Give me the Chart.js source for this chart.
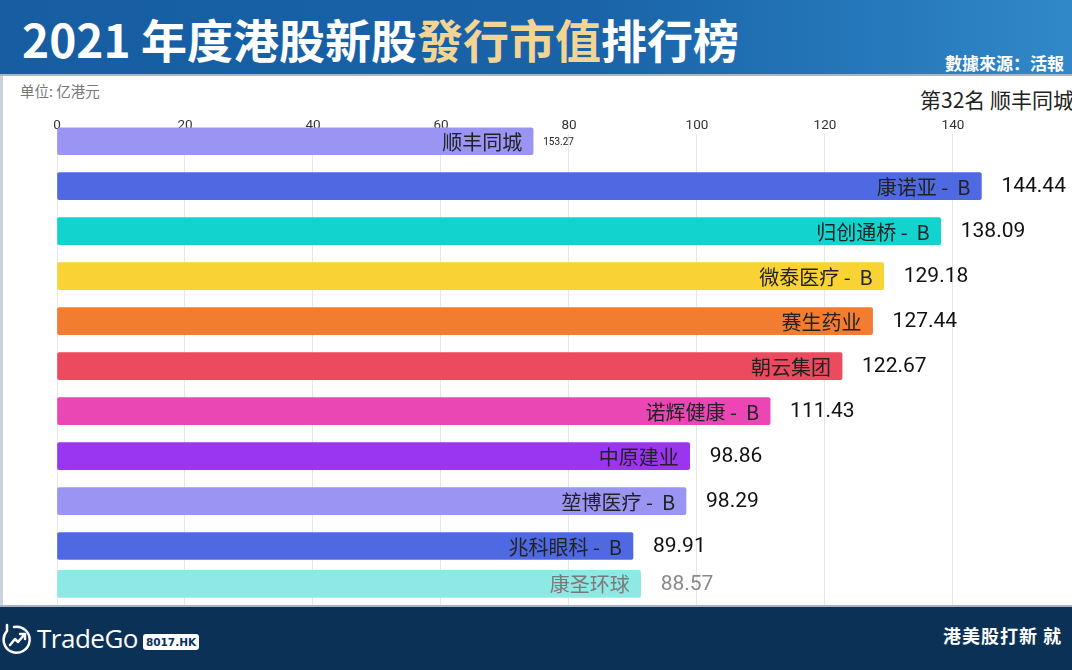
<!DOCTYPE html>
<html>
<head>
<meta charset="utf-8">
<script src="https://cdn.jsdelivr.net/npm/chart.js@4"></script>
<style>
  html, body { margin: 0; padding: 0; }
  body { width: 1072px; height: 670px; position: relative; overflow: hidden; background: #ffffff; font-family: "Noto Sans CJK SC", "Noto Sans", sans-serif; }
  #header { position: absolute; left: 0; top: 0; width: 1072px; height: 76px;
    background: linear-gradient(90deg, #165da2 0%, #1a63a8 55%, #2477ba 80%, #3188c8 100%);
    border-bottom: 2px solid #9fb8d4; box-sizing: border-box; }
  #title { position: absolute; left: 22px; top: 5px; font-size: 46px; font-weight: 700; color: #ffffff; white-space: nowrap; }
  #title .gold { color: #f2d594; }
  #source { position: absolute; left: 945px; top: 50px; font-size: 17px; font-weight: 700; color: #ffffff; white-space: nowrap; }
  #panel { position: absolute; left: 0; top: 76px; width: 1072px; height: 530px; border-left: 3px solid #c9d4e2; box-sizing: border-box; }
  #unit { position: absolute; left: 20px; top: 80px; font-size: 14.5px; color: #777777; }
  #rank { position: absolute; left: 920px; top: 84px; font-size: 21px; color: #222222; white-space: nowrap; }
  #chartBox { position: absolute; left: 0; top: 76px; width: 1072px; height: 530px; }
  #footer { position: absolute; left: 0; top: 605px; width: 1072px; height: 65px; background: #0b3156; border-top: 2px solid #aab4c0; box-sizing: border-box; }
  #logo { position: absolute; left: 2px; top: 13px; height: 36px; display: flex; align-items: center; }
  #logoText { color: #ffffff; font-family: "Open Sans", sans-serif; font-size: 26px; margin-left: 5px; letter-spacing: -0.5px; }
  #logoTag { background: #ffffff; color: #0b3156; font-family: "DejaVu Sans", sans-serif; font-weight: 700; font-size: 10.5px; border-radius: 3px; padding: 2px 3px; margin-left: 5px; margin-top: 8px; }
  #slogan { position: absolute; left: 943px; top: 15px; font-size: 18px; font-weight: 700; color: #ffffff; white-space: nowrap; letter-spacing: 1px; }
</style>
</head>
<body>
<div id="header">
  <div id="title">2021 年度港股新股<span class="gold">發行市值</span>排行榜</div>
  <div id="source">數據來源：活報</div>
</div>
<div id="panel"></div>
<div id="unit">单位: 亿港元</div>
<div id="rank">第32名 顺丰同城</div>
<div id="chartBox"><canvas id="raceChart" width="1072" height="530"></canvas></div>
<div id="footer">
  <div id="logo">
    <svg width="30" height="34" viewBox="0 0 30 34">
      <path d="M5 4 L5 10 A13 13 0 1 0 12 6" fill="none" stroke="#ffffff" stroke-width="2.5" stroke-linecap="round"/>
      <path d="M8 24 L13 18 L16 21 L22 14" fill="none" stroke="#ffffff" stroke-width="2.5" stroke-linecap="round" stroke-linejoin="round"/>
      <path d="M18 13 L23 13 L23 18" fill="none" stroke="#ffffff" stroke-width="2.5" stroke-linecap="round" stroke-linejoin="round"/>
    </svg>
    <span id="logoText">TradeGo</span>
    <span id="logoTag">8017.HK</span>
  </div>
  <div id="slogan">港美股打新 就</div>
</div>

<script>
// ==========================================
// 2021 港股新股發行市值 - bar race frame
// ==========================================

// company names, top to bottom
const names = [
    "顺丰同城",
    "康诺亚 -  B",
    "归创通桥 -  B",
    "微泰医疗 -  B",
    "赛生药业",
    "朝云集团",
    "诺辉健康 -  B",
    "中原建业",
    "堃博医疗 -  B",
    "兆科眼科 -  B",
    "康圣环球"
];

// bar length in this frame (亿港元)
const barValues = [74.4, 144.44, 138.09, 129.18, 127.44, 122.67, 111.43, 98.86, 98.29, 90.0, 91.2];

// number printed next to each bar
const valueLabels = ["153.27", "144.44", "138.09", "129.18", "127.44", "122.67", "111.43", "98.86", "98.29", "89.91", "88.57"];

// rank slot of each bar in this frame (last one is still sliding in)
const ranks = [1, 2, 3, 4, 5, 6, 7, 8, 9, 10, 10.84];

// x axis ticks
const xTicks = [0, 20, 40, 60, 80, 100, 120, 140];

// --- styles ---
const barColors = [
    "#9a95f2", "#4f69e3", "#13d3cf", "#f8d333", "#f27c30", "#ec4a5e",
    "#ea47b5", "#9b36f0", "#9a95f2", "#4f69e3", "#8ee8e4"
];
const nameColors = ["#222", "#222", "#222", "#222", "#222", "#222", "#222", "#222", "#222", "#222", "#7a7a7a"];
const valueColors = ["#222", "#111", "#111", "#111", "#111", "#111", "#111", "#111", "#111", "#111", "#8a8a8a"];
const valueSizes = [10, 21, 21, 21, 21, 21, 21, 21, 21, 21, 21];

const barLabels = {
    id: "barLabels",
    afterDatasetsDraw(chart) {
        const ctx = chart.ctx;
        const meta = chart.getDatasetMeta(0);
        ctx.save();
        ctx.textBaseline = "middle";
        meta.data.forEach((bar, i) => {
            ctx.fillStyle = nameColors[i];
            ctx.font = "20px 'Noto Sans CJK SC'";
            ctx.textAlign = "right";
            ctx.fillText(names[i], bar.x - 11, bar.y + 1);

            ctx.fillStyle = valueColors[i];
            ctx.font = valueSizes[i] + "px Roboto";
            ctx.textAlign = "left";
            ctx.fillText(valueLabels[i], bar.x + (valueSizes[i] < 15 ? 10 : 20), bar.y + 1);
        });
        ctx.restore();
    }
};

const raceChart = new Chart(
    document.getElementById("raceChart"),
    {
        type: "bar",

        data: {
            datasets: [{
                data: barValues.map((v, i) => ({ x: v, y: ranks[i] })),
                backgroundColor: barColors,
                borderRadius: 2,
                borderSkipped: false,
                barThickness: 27,
                clip: false
            }]
        },

        options: {
            indexAxis: "y",
            responsive: false,
            animation: false,
            events: [],
            layout: {
                padding: { left: 57, right: 0, top: 42, bottom: 0 }
            },
            plugins: {
                legend: { display: false },
                tooltip: { enabled: false }
            },
            scales: {
                x: {
                    type: "linear",
                    position: "top",
                    min: 0,
                    max: 158.6,
                    afterBuildTicks: (axis) => {
                        axis.ticks = xTicks.map(v => ({ value: v }));
                    },
                    ticks: {
                        color: "#333333",
                        padding: 0,
                        font: { family: "Roboto", size: 13.5 }
                    },
                    grid: {
                        color: "#e6e6e6",
                        drawTicks: false
                    },
                    border: { display: false }
                },
                y: {
                    type: "linear",
                    display: false,
                    reverse: true,
                    offset: false,
                    min: 0.844,
                    max: 11.333
                }
            }
        },

        plugins: [barLabels]
    }
);
</script>
</body>
</html>
